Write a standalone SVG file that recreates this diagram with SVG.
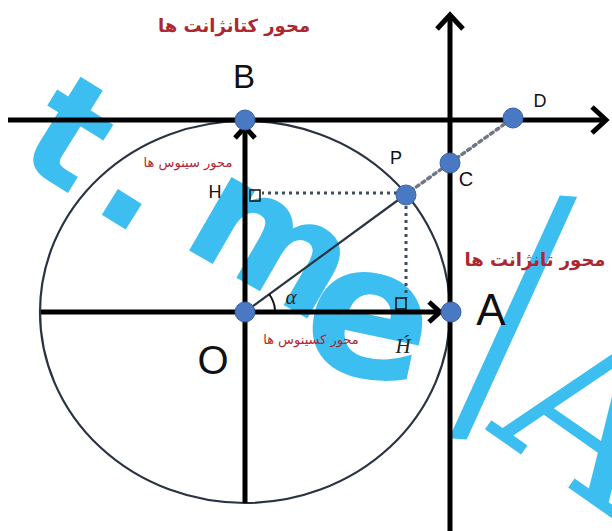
<svg xmlns="http://www.w3.org/2000/svg" width="612" height="531" viewBox="0 0 612 531">
<style>
.ax{stroke:#000;stroke-width:5;fill:none}
.thin{stroke:#2a3342;stroke-width:2.2;fill:none}
.dotl{stroke:#3f4b5e;stroke-width:3;stroke-dasharray:3 4;fill:none}
.dotg{stroke:#6f7787;stroke-width:3.5;stroke-dasharray:3 4;stroke-linecap:round;fill:none}
.pt{fill:#4a79c4;stroke:#3a62a6;stroke-width:1}
.lbl{font-family:"Liberation Sans","DejaVu Sans",sans-serif;fill:#111}
.fa{font-family:"DejaVu Sans",sans-serif;fill:#ad2730;direction:rtl}
.it{font-family:"Liberation Serif","DejaVu Serif",serif;font-style:italic;fill:#222}
.sq{fill:none;stroke:#111;stroke-width:1.5}
.wm{fill:#3cbef0}
</style>
<defs>
<marker id="chev" markerUnits="userSpaceOnUse" markerWidth="30" markerHeight="30" refX="14" refY="13" orient="auto" overflow="visible">
<path d="M0,0 L14,13 L0,26" fill="none" stroke="#000" stroke-width="5"/>
</marker>
<marker id="chevs" markerUnits="userSpaceOnUse" markerWidth="24" markerHeight="24" refX="11" refY="10" orient="auto" overflow="visible">
<path d="M0,0 L11,10 L0,20" fill="none" stroke="#000" stroke-width="5"/>
</marker>
</defs>
<rect width="612" height="531" fill="#fff"/>
<g id="watermark">
<text class="wm" font-family="DejaVu Sans,sans-serif" font-weight="bold"><tspan x="12" y="158" font-size="150" rotate="32">t</tspan><tspan x="88" y="206" font-size="160" rotate="32">.</tspan><tspan x="178" y="244" font-size="155" rotate="30">m</tspan><tspan x="296" y="362" font-size="185" rotate="12">e</tspan><tspan x="445" y="438" font-size="350" font-weight="300" font-family="Open Sans,Liberation Sans,sans-serif" rotate="4">/</tspan><tspan x="486" y="430" font-size="215" font-weight="normal" font-family="DejaVu Serif,serif" rotate="35">A</tspan></text>
</g>
<g id="circle">
<ellipse cx="245" cy="312" rx="205" ry="191" class="thin"/>
</g>
<g id="connectors">
<line x1="8" y1="120" x2="606" y2="120" class="ax" marker-end="url(#chev)"/>
<line x1="450" y1="531" x2="450" y2="15" class="ax" marker-end="url(#chev)"/>
<line x1="41" y1="312" x2="440" y2="312" class="ax" marker-end="url(#chevs)"/>
<line x1="245" y1="503" x2="245" y2="127" class="ax" marker-end="url(#chevs)"/>
<line x1="245" y1="312" x2="405" y2="195" class="thin"/>
<line x1="397" y1="193" x2="262" y2="193" class="dotl"/>
<line x1="406" y1="206" x2="406" y2="298" class="dotl"/>
<line x1="405" y1="195" x2="513" y2="118" class="dotg"/>
<path d="M275,310 A30,30 0 0 0 269,294" fill="none" stroke="#111" stroke-width="2"/>
</g>
<g id="node-B"><circle cx="245" cy="120" r="10" class="pt"/><text x="244" y="88" font-size="33" text-anchor="middle" class="lbl">B</text></g>
<g id="node-O"><circle cx="245" cy="312" r="10" class="pt"/><text x="213" y="374" font-size="40" text-anchor="middle" class="lbl">O</text></g>
<g id="node-A"><circle cx="451" cy="312" r="10" class="pt"/><text x="491" y="325" font-size="44" text-anchor="middle" class="lbl">A</text></g>
<g id="node-P"><circle cx="406" cy="195" r="10" class="pt"/><text x="396" y="164" font-size="18" text-anchor="middle" class="lbl">P</text></g>
<g id="node-C"><circle cx="450" cy="163" r="10" class="pt"/><text x="466" y="186" font-size="20" text-anchor="middle" class="lbl">C</text></g>
<g id="node-D"><circle cx="513" cy="118" r="10" class="pt"/><text x="540" y="107" font-size="18" text-anchor="middle" class="lbl">D</text></g>
<g id="node-H"><rect x="250" y="190" width="10" height="11" class="sq"/><text x="215" y="198" font-size="18" text-anchor="middle" class="lbl">H</text></g>
<g id="node-H2"><rect x="396" y="298" width="10" height="11" class="sq"/><text x="403" y="353" font-size="21" text-anchor="middle" class="it">H́</text></g>
<g id="angle"><text x="291" y="304" font-size="21" text-anchor="middle" class="it">α</text></g>
<g id="labels">
<text x="234" y="32" font-size="18" font-weight="bold" text-anchor="middle" class="fa">محور کتانژانت ها</text>
<text x="188" y="167" font-size="13" text-anchor="middle" class="fa">محور سینوس ها</text>
<text x="311" y="344" font-size="13" text-anchor="middle" class="fa">محور کسینوس ها</text>
<text x="535" y="266" font-size="18" font-weight="bold" text-anchor="middle" class="fa">محور تانژانت ها</text>
</g>
</svg>
